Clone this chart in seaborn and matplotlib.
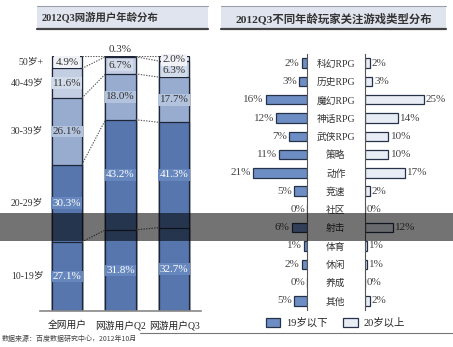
import numpy as np
import matplotlib
matplotlib.use("Agg")
import matplotlib.pyplot as plt
from matplotlib.patches import Rectangle, Patch
from matplotlib.lines import Line2D
import seaborn as sns

# ---- data -------------------------------------------------------------
groups = ["全网用户", "网游用户Q2", "网游用户Q3"]
age_bands = ["10-19岁", "20-29岁", "30-39岁", "40-49岁", "50岁+"]
share_10_19 = [27.1, 31.8, 32.7]
share_20_29 = [30.3, 43.2, 41.3]
share_30_39 = [26.1, 18.0, 17.7]
share_40_49 = [11.6, 6.7, 6.3]
share_50_plus = [4.9, 0.3, 2.0]

genres = ["科幻RPG", "历史RPG", "魔幻RPG", "神话RPG", "武侠RPG", "策略", "动作",
          "竞速", "社区", "射击", "体育", "休闲", "养成", "其他"]
under_19 = [2, 3, 16, 12, 7, 11, 21, 5, 0, 6, 1, 2, 0, 5]
over_20 = [2, 3, 25, 14, 10, 10, 17, 2, 0, 12, 1, 1, 0, 2]
legend_labels = ["19岁以下", "20岁以上"]

title_left = "2012Q3网游用户年龄分布"
title_right = "2012Q3不同年龄玩家关注游戏类型分布"
source_note = "数据来源：百度数据研究中心，2012年10月"

# ---- style ------------------------------------------------------------
sns.set_style("white")
plt.rcParams["font.family"] = ["Liberation Serif", "Noto Sans CJK SC"]

W, H = 453, 347
fig = plt.figure(figsize=(W / 100, H / 100), dpi=100)


def px_axes(x0, y0, x1, y1):
    return fig.add_axes([x0 / W, 1 - y1 / H, (x1 - x0) / W, (y1 - y0) / H])


edge = "#1e2638"
seg_colors = ["#5676ad", "#5676ad", "#98acd0", "#c3cee3", "#e6eaf2"]
box_colors = ["#6687be", "#6687be", "#b3c2dd", "#d2dbea", "#f0f2f7"]
txt_colors = ["white", "white", "#333333", "#333333", "#333333"]

# ---- left: stacked age distribution ----------------------------------
ax = px_axes(40, 56, 201, 311)
bands = np.array([share_10_19, share_20_29, share_30_39, share_40_49, share_50_plus])
tops = bands.cumsum(axis=0)
bar_w = 0.56
for k in reversed(range(len(age_bands))):
    sns.barplot(x=groups, y=tops[k], order=groups, color=seg_colors[k],
                saturation=1, width=bar_w, edgecolor=edge, linewidth=0.9,
                errorbar=None, ax=ax)
ax.set_xlim(-0.5, 2.5)
ax.set_ylim(0, 100)

# dotted connectors between neighbouring bars at every band boundary
for i in range(len(groups) - 1):
    for k in range(len(age_bands)):
        ax.plot([i + bar_w / 2, i + 1 - bar_w / 2], [tops[k][i], tops[k][i + 1]],
                ls=(0, (1.2, 1.2)), color="#555555", lw=0.8, zorder=1)

# segment value labels
label_y = tops - bands / 2
label_y_override = {(4, 1): 102.4, (4, 2): 98.5, (3, 2): 94.2}
for k in range(len(age_bands)):
    for i in range(len(groups)):
        v = bands[k][i]
        y = label_y_override.get((k, i), label_y[k][i])
        if v < 1:
            ax.text(i, y, f"{v:.1f}%", ha="center", va="center", fontsize=8,
                    color="#333333", clip_on=False)
        else:
            ax.text(i, y, f"{v:.1f}%", ha="center", va="center", fontsize=8,
                    color=txt_colors[k], clip_on=False, zorder=5,
                    bbox=dict(boxstyle="square,pad=0.12", fc=box_colors[k], ec="none"))

# age band names beside the first bar
for k in range(len(age_bands)):
    ax.text(-0.44, label_y[k][0], age_bands[k], ha="right", va="center",
            fontsize=7, color="#333333", clip_on=False)

ax.set_xlabel("")
ax.set_ylabel("")
ax.set_yticks([])
ax.tick_params(axis="x", length=0, pad=7, labelsize=7, labelcolor="#222222")
for s in ["left", "right", "top"]:
    ax.spines[s].set_visible(False)
ax.spines["bottom"].set_color("#888888")
ax.spines["bottom"].set_linewidth(1.2)

# ---- right: genre interest butterfly ---------------------------------
c_left, c_right = "#6d8ec4", "#e8ecf4"
bar_edge = "#26314a"
axl = px_axes(230, 54, 307, 310)
axr = px_axes(365, 54, 446, 310)
sns.barplot(x=under_19, y=genres, order=genres, orient="y", color=c_left,
            saturation=1, width=0.52, edgecolor=bar_edge, linewidth=0.9,
            errorbar=None, ax=axl)
sns.barplot(x=over_20, y=genres, order=genres, orient="y", color=c_right,
            saturation=1, width=0.52, edgecolor=bar_edge, linewidth=0.9,
            errorbar=None, ax=axr)
axl.set_xlim(30, 0)
axr.set_xlim(0, 34.5)

for i, v in enumerate(under_19):
    axl.annotate(f"{v}%", xy=(v, i), xytext=(-1.5, 0), textcoords="offset points",
                 ha="right", va="center", fontsize=8, color="#444444")
for i, v in enumerate(over_20):
    axr.annotate(f"{v}%", xy=(v, i), xytext=(1.5, 0), textcoords="offset points",
                 ha="left", va="center", fontsize=8, color="#444444")

for a in (axl, axr):
    a.set_xlabel("")
    a.set_ylabel("")
    a.set_xticks([])
    for s in a.spines.values():
        s.set_visible(False)
axl.set_yticks([])
axl.spines["right"].set_visible(True)
axl.spines["right"].set_color("#555555")
axr.spines["left"].set_visible(True)
axr.spines["left"].set_color("#555555")
axr.tick_params(axis="y", length=0, pad=21, labelsize=7, labelcolor="#333333")
for t in axr.get_yticklabels():
    t.set_ha("center")

handles = [Patch(fc=c_left, ec=bar_edge, lw=0.9), Patch(fc=c_right, ec=bar_edge, lw=0.9)]
fig.legend(handles, legend_labels, loc="center left",
           bbox_to_anchor=(266 / W, 1 - 323 / H), ncol=2, frameon=False,
           fontsize=7.5, handlelength=1.35, handleheight=1.0, handletextpad=0.6,
           columnspacing=1.5, borderpad=0, borderaxespad=0)

# ---- title boxes, footer ---------------------------------------------
for x0, x1 in [(37, 208), (221, 446)]:
    fig.add_artist(Rectangle((x0 / W, 1 - 29 / H), (x1 - x0) / W, 23 / H,
                             transform=fig.transFigure, fc="#dfe4ee", ec="none"))
    fig.add_artist(Line2D([x0 / W, x1 / W], [1 - 6 / H] * 2, color="#9aa0aa", lw=0.8))
    fig.add_artist(Line2D([x0 / W, x1 / W], [1 - 29 / H] * 2, color="#444444", lw=1.6))
fig.text(42 / W, 1 - 18 / H, title_left, ha="left", va="center", fontsize=7.5,
         fontweight="bold", color="#333333")
fig.text(334 / W, 1 - 18 / H, title_right, ha="center", va="center", fontsize=8.2,
         fontweight="bold", color="#333333")

fig.add_artist(Line2D([140 / W, 1], [1 - 333 / H] * 2, color="#777777", lw=0.8))
fig.text(2 / W, 1 - 339 / H, source_note, ha="left", va="center", fontsize=5,
         color="#444444", family=["Noto Sans CJK SC"])

# translucent dark band across the middle
fig.add_artist(Rectangle((0, 1 - 241 / H), 1, 28 / H, transform=fig.transFigure,
                         fc="black", alpha=0.55, ec="none", zorder=10))

fig.savefig("out.png", dpi=100)
